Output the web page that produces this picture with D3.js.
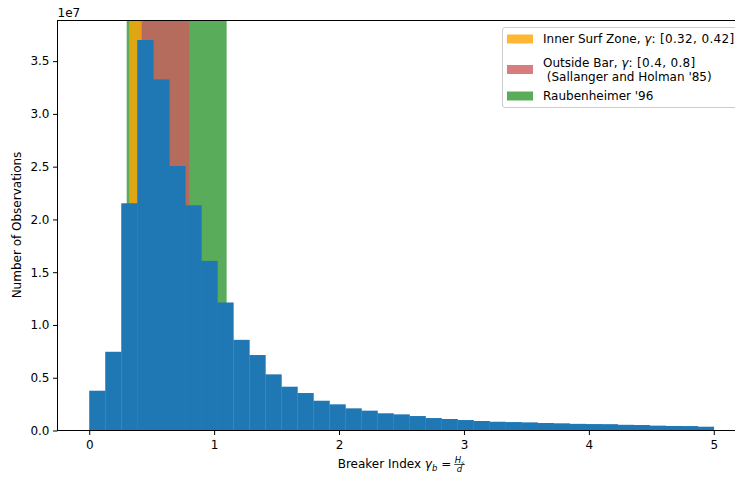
<!DOCTYPE html>
<html lang="en">
<head>
    <meta charset="UTF-8">
    <title>Breaker index histogram</title>
    <style>
        body { margin: 0; background: #fff; }
        text { font-family: "DejaVu Sans", sans-serif; fill: #000; }
    </style>
</head>
<body>
<script src="https://d3js.org/d3.v7.min.js"></script>
<script>
    // histogram counts (x 1e7), 39 equal bins between 0 and 5
    const binRange = [0, 5];
    const counts = [0.377, 0.746, 2.153, 3.700, 3.327, 2.506, 2.134, 1.607, 1.213, 0.859,
                    0.715, 0.532, 0.415, 0.355, 0.282, 0.248, 0.210, 0.188, 0.163, 0.153,
                    0.137, 0.118, 0.109, 0.099, 0.090, 0.083, 0.080, 0.077, 0.071, 0.068,
                    0.063, 0.061, 0.060, 0.054, 0.052, 0.046, 0.043, 0.042, 0.036];

    // shaded gamma ranges, drawn bottom to top
    const spanNames = ["Raubenheimer '96", "Outside Bar", "Inner Surf Zone"];
    const spanRanges = [[0.3, 1.1], [0.4, 0.8], [0.32, 0.42]];
    const spanColors = ["rgb(0,128,0)", "indianred", "orange"];
    const spanAlpha = [0.65, 0.8, 0.8];

    const xTicks = [0, 1, 2, 3, 4, 5];
    const yTicks = [0, 0.5, 1.0, 1.5, 2.0, 2.5, 3.0, 3.5];

    const W = 735, H = 478;
    const plot = {left: 57.5, top: 20.5, right: 745, bottom: 430.5};

    const svg = d3.select("body").append("svg")
        .attr("width", W)
        .attr("height", H);

    const nBins = counts.length;
    const binW = (binRange[1] - binRange[0]) / nBins;
    const bins = counts.map((c, i) => ({x0: binRange[0] + i * binW, x1: binRange[0] + (i + 1) * binW, c: c}));

    const x = d3.scaleLinear().domain([-0.25, 5.25]).range([plot.left + 0.5, plot.right]);
    const y = d3.scaleLinear().domain([0, d3.max(counts) * 1.05]).range([plot.bottom, plot.top]);

    const g = svg.append("g");

    // spans
    g.selectAll(".span")
        .data(spanRanges)
        .enter().append("rect")
        .attr("x", d => x(d[0]))
        .attr("width", d => x(d[1]) - x(d[0]))
        .attr("y", plot.top)
        .attr("height", plot.bottom - plot.top)
        .attr("fill", (d, i) => spanColors[i])
        .attr("fill-opacity", (d, i) => spanAlpha[i]);

    // bars
    g.selectAll(".bar")
        .data(bins)
        .enter().append("rect")
        .attr("fill", "#1f77b4")
        .attr("x", d => x(d.x0))
        .attr("width", d => x(d.x1) - x(d.x0) + 0.3)
        .attr("y", d => y(d.c))
        .attr("height", d => y(0) - y(d.c));

    // axes
    const xAxis = svg.append("g")
        .attr("transform", "translate(0," + plot.bottom + ")")
        .call(d3.axisBottom(x).tickValues(xTicks).tickFormat(d3.format("d")).tickSize(4.5).tickPadding(5).tickSizeOuter(0));
    const yAxis = svg.append("g")
        .attr("transform", "translate(" + plot.left + ",0)")
        .call(d3.axisLeft(y).tickValues(yTicks).tickFormat(d3.format(".1f")).tickSize(4.5).tickPadding(3.5).tickSizeOuter(0));
    [xAxis, yAxis].forEach(a => {
        a.select(".domain").remove();
        a.selectAll("text").style("font-size", "12px").style("font-family", "DejaVu Sans");
        a.selectAll("line").attr("stroke", "#000");
    });

    // frame
    svg.append("rect")
        .attr("x", plot.left).attr("y", plot.top)
        .attr("width", plot.right - plot.left).attr("height", plot.bottom - plot.top)
        .attr("fill", "none").attr("stroke", "#000").attr("stroke-width", 1);

    svg.append("text").attr("x", plot.left).attr("y", 17).style("font-size", "12px").text("1e7");

    // y label
    svg.append("text")
        .attr("transform", "translate(21,225) rotate(-90)")
        .attr("text-anchor", "middle")
        .style("font-size", "12px")
        .text("Number of Observations");

    // x label with fraction
    const xl = svg.append("g");
    const xt = xl.append("text").attr("y", 0).style("font-size", "12px");
    xt.append("tspan").text("Breaker Index ");
    xt.append("tspan").style("font-style", "italic").text("γ");
    xt.append("tspan").style("font-style", "italic").style("font-size", "8.5px").attr("dy", 3).text("b");
    xt.append("tspan").attr("dy", -3).text(" =");
    const w0 = xt.node().getComputedTextLength() + 3;
    const num = xl.append("text").attr("x", w0 + 0.5).attr("y", -5).style("font-size", "8.5px");
    num.append("tspan").style("font-style", "italic").text("H");
    num.append("tspan").style("font-style", "italic").style("font-size", "6px").attr("dy", 1.5).text("s");
    const fw = num.node().getComputedTextLength() + 1;
    xl.append("line").attr("x1", w0).attr("x2", w0 + fw).attr("y1", -3.5).attr("y2", -3.5)
        .attr("stroke", "#000").attr("stroke-width", 0.7);
    xl.append("text").attr("x", w0 + fw / 2).attr("y", 4).attr("text-anchor", "middle")
        .style("font-size", "8.5px").style("font-style", "italic").text("d");
    const totalW = w0 + fw;
    xl.attr("transform", "translate(" + ((plot.left + plot.right) / 2 - totalW / 2) + ",468)");

    // legend
    const leg = svg.append("g").attr("transform", "translate(502.5,27.5)");
    leg.append("rect").attr("width", 240).attr("height", 80).attr("rx", 2.5)
        .attr("fill", "#fff").attr("fill-opacity", 0.8).attr("stroke", "#ccc");
    const legRows = [
        {i: 2, cy: 11.5, lines: [["Inner Surf Zone, ", "γ", ": [0.32, 0.42]"]]},
        {i: 1, cy: 42, lines: [["Outside Bar, ", "γ", ": [0.4, 0.8]"], [" (Sallanger and Holman '85)"]]},
        {i: 0, cy: 68.5, lines: [["Raubenheimer '96"]]}
    ];
    legRows.forEach(r => {
        leg.append("rect").attr("x", 4.5).attr("y", r.cy - 4.5).attr("width", 26).attr("height", 9)
            .attr("fill", spanColors[r.i]).attr("fill-opacity", spanAlpha[r.i]);
        const y0 = r.cy - (r.lines.length - 1) * 7;
        r.lines.forEach((parts, k) => {
            const t = leg.append("text").attr("x", 40.5).attr("y", y0 + k * 14).attr("dy", "0.36em")
                .style("font-size", "12px").attr("xml:space", "preserve");
            parts.forEach((p, j) => {
                t.append("tspan").style("font-style", j === 1 ? "italic" : null)
                    .style("letter-spacing", j === 2 ? "0.35px" : null).text(p);
            });
        });
    });
</script>
</body>
</html>
